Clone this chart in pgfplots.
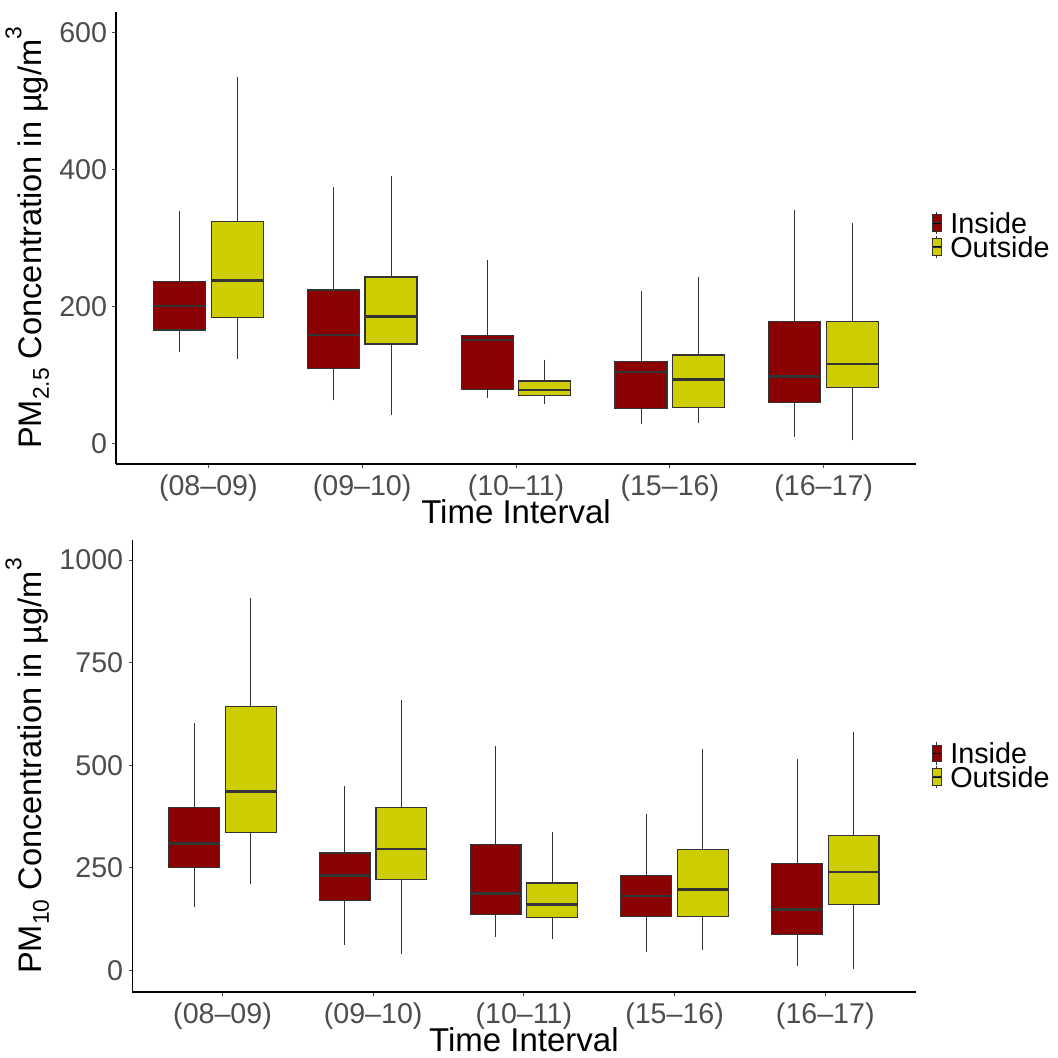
\documentclass[border=0pt]{standalone}
\usepackage{pgfplots}
\pgfplotsset{compat=1.18}
\usepgfplotslibrary{statistics}
\usepackage{fontspec}
\setmainfont{Liberation Sans}
\definecolor{inside}{HTML}{8B0000}
\definecolor{outside}{HTML}{CDCD00}
\definecolor{tickgray}{HTML}{4D4D4D}
\definecolor{boxline}{HTML}{333333}
\newcommand\mysub[1]{\raisebox{-0.22em}{\fontsize{11.4}{11.4}\selectfont #1}}
\newcommand\mysup[1]{\raisebox{0.62em}{\fontsize{11.4}{11.4}\selectfont #1}}
\newcommand\keyimg[1]{%
  \draw[overlay, boxline, line width=0.5pt] (2.1pt,4.15pt) -- (2.1pt,5.6pt) (2.1pt,-4.15pt) -- (2.1pt,-5.6pt);
  \draw[overlay, fill=#1, draw=boxline, line width=0.5pt] (0pt,-4.15pt) rectangle (4.2pt,4.15pt);
  \draw[overlay, boxline, line width=0.8pt] (0pt,0pt) -- (4.2pt,0pt);
  \path (0pt,0pt) -- (4.2pt,0pt);
}
\pgfplotsset{
  common/.style={
    scale only axis,
    xmin=0.4, xmax=5.6,
    axis x line*=bottom, axis y line*=left,
    axis line style={black, line width=0.6pt},
    xtick={1,2,3,4,5},
    xticklabels={(08–09),(09–10),(10–11),(15–16),(16–17)},
    tick align=outside,
    major tick length=1.8pt,
    tick style={tickgray, line width=0.5pt},
    ticklabel style={font=\fontsize{14.3}{14.3}\selectfont, text=tickgray},
    xticklabel style={anchor=base, inner sep=0pt, yshift=-13.8pt},
    yticklabel style={anchor=east, inner sep=0pt, xshift=-2.5pt},
    /pgf/number format/assume math mode=true,
    /pgf/number format/set thousands separator={},
    xlabel={Time Interval},
    xlabel style={at={(axis description cs:0.5,0)}, anchor=base, yshift=-29.7pt, inner sep=0pt, font=\fontsize{16.5}{16.5}\selectfont},
    ylabel style={anchor=base, inner sep=0pt, font=\fontsize{16.3}{16.3}\selectfont},
    boxplot/draw direction=y,
    boxplot/box extend=0.3375,
    boxplot/whisker extend=0,
    boxplot/every median/.style={draw=boxline, line width=1.3pt},
    boxplot/every whisker/.style={draw=boxline, line width=0.5pt},
    legend style={draw=none, fill=none, inner sep=0pt, outer sep=0pt, anchor=west,
      font=\fontsize{14.4}{14.4}\selectfont, row sep=1.6pt, column sep=4.4pt,
      nodes={inner sep=0pt, text height=10.2pt, text depth=0pt}},
    legend cell align=left,
  },
  inbox/.style={forget plot, fill=inside, draw=boxline, line width=0.6pt},
  outbox/.style={forget plot, fill=outside, draw=boxline, line width=0.6pt},
}
\begin{document}
\begin{tikzpicture}
\path[use as bounding box] (0pt,0pt) rectangle (529pt,-528.5pt);
% ---------- PM2.5 ----------
\begin{axis}[common,
  at={(58pt,-5.85pt)}, anchor=north west,
  width=400pt, height=226.15pt,
  ymin=-30, ymax=630, ytick={0,200,400,600},
  ylabel={PM\mysub{2.5} Concentration in µg/m\mysup{3}},
  ylabel style={at={(axis description cs:-0.0929,0.5)}},
  legend style={at={(axis description cs:1.0204,0.5063)}},
]
\addplot[inbox, boxplot prepared={draw position=0.8125, lower whisker=134, lower quartile=165.5, median=200.5, upper quartile=236, upper whisker=339}] coordinates {};
\addplot[outbox, boxplot prepared={draw position=1.1875, lower whisker=123, lower quartile=184, median=238, upper quartile=324, upper whisker=534}] coordinates {};
\addplot[inbox, boxplot prepared={draw position=1.8125, lower whisker=63, lower quartile=109, median=158, upper quartile=224, upper whisker=374}] coordinates {};
\addplot[outbox, boxplot prepared={draw position=2.1875, lower whisker=42, lower quartile=145, median=185, upper quartile=243, upper whisker=390}] coordinates {};
\addplot[inbox, boxplot prepared={draw position=2.8125, lower whisker=67, lower quartile=79, median=151, upper quartile=157, upper whisker=267}] coordinates {};
\addplot[outbox, boxplot prepared={draw position=3.1875, lower whisker=58, lower quartile=70, median=78, upper quartile=91, upper whisker=122}] coordinates {};
\addplot[inbox, boxplot prepared={draw position=3.8125, lower whisker=29, lower quartile=51, median=104, upper quartile=120, upper whisker=223}] coordinates {};
\addplot[outbox, boxplot prepared={draw position=4.1875, lower whisker=30, lower quartile=53, median=93, upper quartile=129, upper whisker=243}] coordinates {};
\addplot[inbox, boxplot prepared={draw position=4.8125, lower whisker=10, lower quartile=60, median=98, upper quartile=178, upper whisker=341}] coordinates {};
\addplot[outbox, boxplot prepared={draw position=5.1875, lower whisker=5, lower quartile=82, median=116, upper quartile=178, upper whisker=322}] coordinates {};
\addlegendimage{legend image code/.code={\keyimg{inside}}}
\addlegendentry{Inside}
\addlegendimage{legend image code/.code={\keyimg{outside}}}
\addlegendentry{Outside}
\end{axis}
% ---------- PM10 ----------
\begin{axis}[common,
  at={(66.05pt,-270pt)}, anchor=north west,
  width=391.8pt, height=226pt,
  ymin=-52.5, ymax=1048.7, ytick={0,250,500,750,1000},
  ylabel={PM\mysub{10} Concentration in µg/m\mysup{3}},
  ylabel style={at={(axis description cs:-0.1154,0.5)}},
  legend style={at={(axis description cs:1.0212,0.502)}},
]
\addplot[inbox, boxplot prepared={draw position=0.8125, lower whisker=154, lower quartile=251, median=310, upper quartile=398, upper whisker=604}] coordinates {};
\addplot[outbox, boxplot prepared={draw position=1.1875, lower whisker=210, lower quartile=337, median=436, upper quartile=644, upper whisker=907}] coordinates {};
\addplot[inbox, boxplot prepared={draw position=1.8125, lower whisker=62, lower quartile=171, median=231, upper quartile=286, upper whisker=449}] coordinates {};
\addplot[outbox, boxplot prepared={draw position=2.1875, lower whisker=41, lower quartile=222, median=296, upper quartile=398, upper whisker=659}] coordinates {};
\addplot[inbox, boxplot prepared={draw position=2.8125, lower whisker=81, lower quartile=135.5, median=187.5, upper quartile=306, upper whisker=546}] coordinates {};
\addplot[outbox, boxplot prepared={draw position=3.1875, lower whisker=75.5, lower quartile=130, median=161, upper quartile=213, upper whisker=337}] coordinates {};
\addplot[inbox, boxplot prepared={draw position=3.8125, lower whisker=46, lower quartile=131, median=181, upper quartile=232, upper whisker=381.5}] coordinates {};
\addplot[outbox, boxplot prepared={draw position=4.1875, lower whisker=49, lower quartile=131.5, median=198, upper quartile=295, upper whisker=539}] coordinates {};
\addplot[inbox, boxplot prepared={draw position=4.8125, lower whisker=10, lower quartile=88.5, median=149, upper quartile=261, upper whisker=515}] coordinates {};
\addplot[outbox, boxplot prepared={draw position=5.1875, lower whisker=2.5, lower quartile=161, median=240, upper quartile=329.5, upper whisker=581}] coordinates {};
\addlegendimage{legend image code/.code={\keyimg{inside}}}
\addlegendentry{Inside}
\addlegendimage{legend image code/.code={\keyimg{outside}}}
\addlegendentry{Outside}
\end{axis}
\end{tikzpicture}
\end{document}
